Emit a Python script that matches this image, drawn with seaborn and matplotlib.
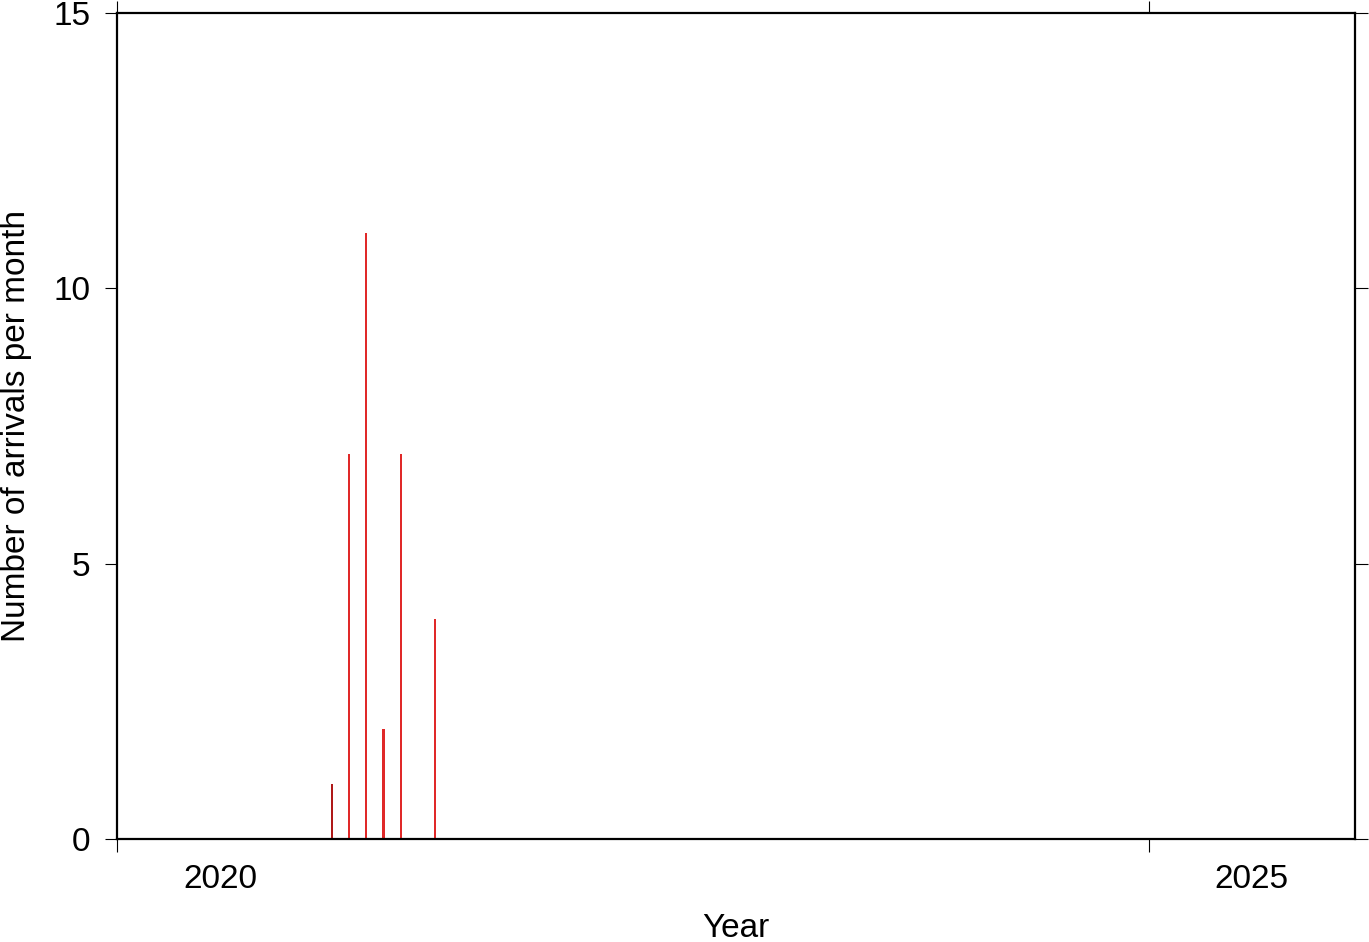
import seaborn as sns
import matplotlib.pyplot as plt
import pandas as pd

# ----------------------------
# Monthly arrival counts
# ----------------------------
years = [2021, 2021, 2021, 2021, 2021, 2021]
months = [1, 2, 3, 4, 5, 7]
counts = [1, 7, 11, 2, 7, 4]
groups = ["first", "main", "main", "main", "main", "main"]

df = pd.DataFrame({"year": years, "month": months, "count": counts, "group": groups})
# place each bar in the middle of its month, in decimal years
df["t"] = df["year"] + (df["month"] - 0.5) / 12.0

sns.set_style("ticks")
plt.rcParams["font.family"] = ["Liberation Sans", "DejaVu Sans"]
plt.rcParams.update({
    "text.color": "black",
    "axes.labelcolor": "black",
    "xtick.color": "black",
    "ytick.color": "black",
})

fig = plt.figure(figsize=(13.69, 9.42), dpi=100)
ax = fig.add_axes([117 / 1369, 1 - 839 / 942, 1238 / 1369, 826 / 942])

sns.barplot(
    data=df, x="t", y="count", hue="group",
    palette={"first": "#c80000", "main": "#ff0a0a"},
    native_scale=True, width=0.13, linewidth=0, legend=False, ax=ax,
)

ax.set_xlim(2020, 2026)
ax.set_ylim(0, 15)

# frame
for side in ["left", "right", "top", "bottom"]:
    ax.spines[side].set_visible(True)
    ax.spines[side].set_linewidth(1.6)
    ax.spines[side].set_color("black")

# year ticks at year boundaries, labels centred in the year
ax.set_xticks([2020, 2025])
ax.set_xticklabels([])
ax.set_xticks([2020.5, 2025.5], minor=True)
ax.set_xticklabels(["2020", "2025"], minor=True, fontsize=24)
ax.tick_params(axis="x", which="major", direction="out", length=9, width=0.8,
               top=True, bottom=True)
ax.tick_params(axis="x", which="minor", length=0, pad=18, top=False)

ax.set_yticks([0, 5, 10, 15])
ax.tick_params(axis="y", which="major", direction="out", length=9, width=0.8,
               left=True, right=True, labelsize=24, pad=10)

ax.set_xlabel("Year", fontsize=24)
ax.set_ylabel("Number of arrivals per month", fontsize=24)
ax.xaxis.set_label_coords(0.5, -0.089)
ax.yaxis.set_label_coords(-0.069, 0.5)

fig.savefig("out.png", dpi=100)
plt.close(fig)
